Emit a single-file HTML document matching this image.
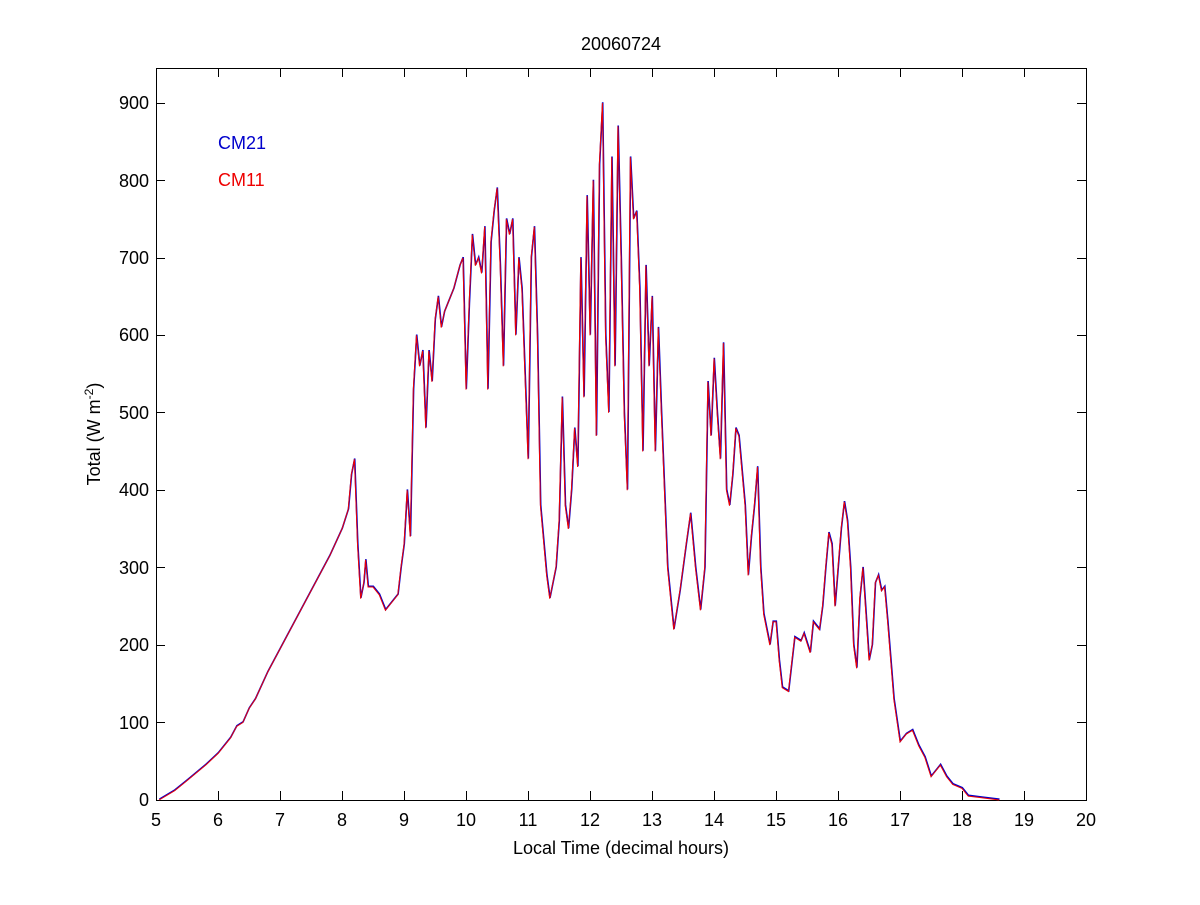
<!DOCTYPE html>
<html><head><meta charset="utf-8"><style>
html,body{margin:0;padding:0;background:#fff;}
text{font-family:"Liberation Sans",Arial,sans-serif;font-size:18px;fill:#000;}
</style></head><body>
<svg width="1200" height="900" xmlns="http://www.w3.org/2000/svg">
<defs>
<polyline id="d" vector-effect="non-scaling-stroke" points="5.05,0 5.3,12 5.5,25 5.8,45 6.0,60 6.2,80 6.3,95 6.4,100 6.5,118 6.6,130 6.8,165 7.0,195 7.2,225 7.4,255 7.6,285 7.8,315 8.0,350 8.1,375 8.15,420 8.2,440 8.25,330 8.3,260 8.35,280 8.38,310 8.42,275 8.5,275 8.6,265 8.7,245 8.8,255 8.9,265 8.95,300 9.0,330 9.05,400 9.1,340 9.15,530 9.2,600 9.25,560 9.3,580 9.35,480 9.4,580 9.45,540 9.5,620 9.55,650 9.6,610 9.65,630 9.7,640 9.8,660 9.9,690 9.95,700 10.0,530 10.05,640 10.1,730 10.15,690 10.2,700 10.25,680 10.3,740 10.35,530 10.4,720 10.45,760 10.5,790 10.55,690 10.6,560 10.65,750 10.7,730 10.75,750 10.8,600 10.85,700 10.9,660 11.0,440 11.05,700 11.1,740 11.15,600 11.2,380 11.3,290 11.35,260 11.45,300 11.5,360 11.55,520 11.6,380 11.65,350 11.7,400 11.75,480 11.8,430 11.85,700 11.9,520 11.95,780 12.0,600 12.05,800 12.1,470 12.15,820 12.2,900 12.25,600 12.3,500 12.35,830 12.4,560 12.45,870 12.5,700 12.55,500 12.6,400 12.65,830 12.7,750 12.75,760 12.8,660 12.85,450 12.9,690 12.95,560 13.0,650 13.05,450 13.1,610 13.15,500 13.25,300 13.35,220 13.45,270 13.55,330 13.62,370 13.7,300 13.78,245 13.85,300 13.9,540 13.95,470 14.0,570 14.05,500 14.1,440 14.15,590 14.2,400 14.25,380 14.3,420 14.35,480 14.4,470 14.5,380 14.55,290 14.6,340 14.65,380 14.7,430 14.75,300 14.8,240 14.9,200 14.95,230 15.0,230 15.05,180 15.1,145 15.2,140 15.3,210 15.4,205 15.45,215 15.55,190 15.6,230 15.7,220 15.75,250 15.8,300 15.85,345 15.9,330 15.95,250 16.0,300 16.05,350 16.1,385 16.15,360 16.2,300 16.25,200 16.3,170 16.35,260 16.4,300 16.45,240 16.5,180 16.55,200 16.6,280 16.65,290 16.7,270 16.75,275 16.8,230 16.9,130 17.0,75 17.1,85 17.2,90 17.3,70 17.4,55 17.5,30 17.6,40 17.65,45 17.75,30 17.85,20 18.0,15 18.1,5 18.3,3 18.6,0"/>
</defs>
<rect width="1200" height="900" fill="#fff"/>
<g stroke="#000" stroke-width="1" fill="none">
<rect x="156.5" y="68.5" width="930" height="732"/>
<path d="M156.5 800v-9M218.5 800v-9M280.5 800v-9M342.5 800v-9M404.5 800v-9M466.5 800v-9M528.5 800v-9M590.5 800v-9M652.5 800v-9M714.5 800v-9M776.5 800v-9M838.5 800v-9M900.5 800v-9M962.5 800v-9M1024.5 800v-9M1086.5 800v-9"/>
<path d="M156.5 68v9M218.5 68v9M280.5 68v9M342.5 68v9M404.5 68v9M466.5 68v9M528.5 68v9M590.5 68v9M652.5 68v9M714.5 68v9M776.5 68v9M838.5 68v9M900.5 68v9M962.5 68v9M1024.5 68v9M1086.5 68v9"/>
<path d="M156 722.5h9M156 645.5h9M156 567.5h9M156 490.5h9M156 412.5h9M156 335.5h9M156 258.5h9M156 180.5h9M156 103.5h9"/>
<path d="M1086 722.5h-9M1086 645.5h-9M1086 567.5h-9M1086 490.5h-9M1086 412.5h-9M1086 335.5h-9M1086 258.5h-9M1086 180.5h-9M1086 103.5h-9"/>
</g>
<g text-anchor="middle">
<text x="156" y="826">5</text><text x="218" y="826">6</text><text x="280" y="826">7</text><text x="342" y="826">8</text><text x="404" y="826">9</text><text x="466" y="826">10</text><text x="528" y="826">11</text><text x="590" y="826">12</text><text x="652" y="826">13</text><text x="714" y="826">14</text><text x="776" y="826">15</text><text x="838" y="826">16</text><text x="900" y="826">17</text><text x="962" y="826">18</text><text x="1024" y="826">19</text><text x="1086" y="826">20</text>
<text x="621" y="50">20060724</text>
<text x="621" y="854">Local Time (decimal hours)</text>
</g>
<g text-anchor="end">
<text x="149" y="806">0</text><text x="149" y="729">100</text><text x="149" y="651">200</text><text x="149" y="574">300</text><text x="149" y="496">400</text><text x="149" y="419">500</text><text x="149" y="341">600</text><text x="149" y="264">700</text><text x="149" y="187">800</text><text x="149" y="109">900</text>
</g>
<text transform="translate(100,434) rotate(-90)" text-anchor="middle">Total (W m<tspan dy="-7" font-size="12">-2</tspan><tspan dy="7">)</tspan></text>
<text x="218" y="149" style="fill:#0000cc">CM21</text>
<text x="218" y="186" style="fill:#ee0000">CM11</text>
<g transform="matrix(62 0 0 -0.7744 -154 800)" fill="none">
<use href="#d" stroke="#0000cc" stroke-width="1.6" transform="translate(0.005,1)"/>
<use href="#d" stroke="#ee0000" stroke-width="1"/>
</g>
</svg>
</body></html>
